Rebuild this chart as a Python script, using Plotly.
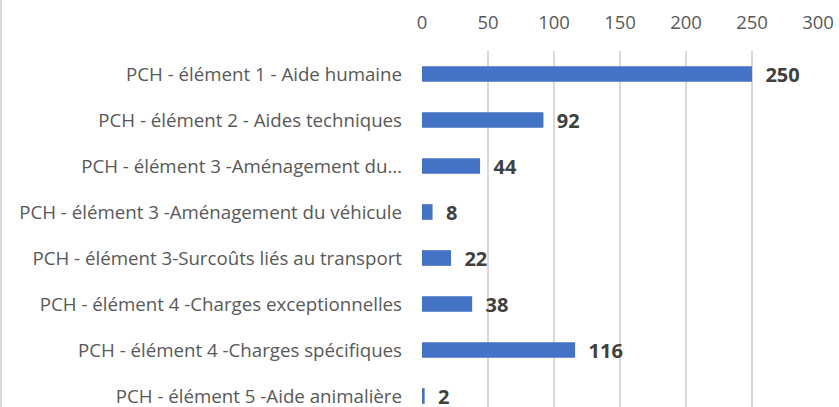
import plotly.graph_objects as go

categories = [
    "PCH - élément 1 - Aide humaine",
    "PCH - élément 2 - Aides techniques",
    "PCH - élément 3 -Aménagement du…",
    "PCH - élément 3 -Aménagement du véhicule",
    "PCH - élément 3-Surcoûts liés au transport",
    "PCH - élément 4 -Charges exceptionnelles",
    "PCH - élément 4 -Charges spécifiques",
    "PCH - élément 5 -Aide animalière",
]
values = [250, 92, 44, 8, 22, 38, 116, 2]
x_ticks = [0, 50, 100, 150, 200, 250, 300]

FONT = "Open Sans"
L, R, T = 422, 21, 51
PW = 839 - L - R
PH = 407 - T

fig = go.Figure(go.Bar(
    y=categories, x=values, orientation="h",
    marker=dict(color="#4472C4", line=dict(width=0)),
    width=0.34,
    text=values, texttemplate="  %{x}", textposition="outside",
    constraintext="none",
    textfont=dict(family=FONT, size=20, color="#404040", weight="bold"),
    cliponaxis=False,
))

fig.update_layout(
    width=839, height=407,
    margin=dict(l=L, r=R, t=T, b=0, autoexpand=False),
    paper_bgcolor="white", plot_bgcolor="white",
    showlegend=False,
    font=dict(family=FONT, color="#595959"),
    xaxis=dict(
        side="top", range=[0, 300], tickvals=x_ticks,
        showgrid=True, gridcolor="#d9d9d9", gridwidth=1.5,
        zeroline=False, showline=False, ticks="",
        tickfont=dict(size=18.5, color="#595959"),
        ticklabelstandoff=17, automargin=False,
    ),
    yaxis=dict(
        type="category", categoryorder="array", categoryarray=categories,
        range=[7.239, -0.5], showgrid=False, zeroline=False,
        showline=False, ticks="",
        tickfont=dict(size=18.7, color="#595959"),
        ticklabelstandoff=19, automargin=False,
    ),
    shapes=[dict(type="line", xref="paper", yref="paper",
                 x0=(1 - L) / PW, x1=(1 - L) / PW,
                 y0=0, y1=407 / PH,
                 line=dict(color="#d9d9d9", width=2))],
)

fig.write_html("out.html", config={"displayModeBar": False},
               post_script="document.body.style.margin='0';document.body.style.padding='0';")
